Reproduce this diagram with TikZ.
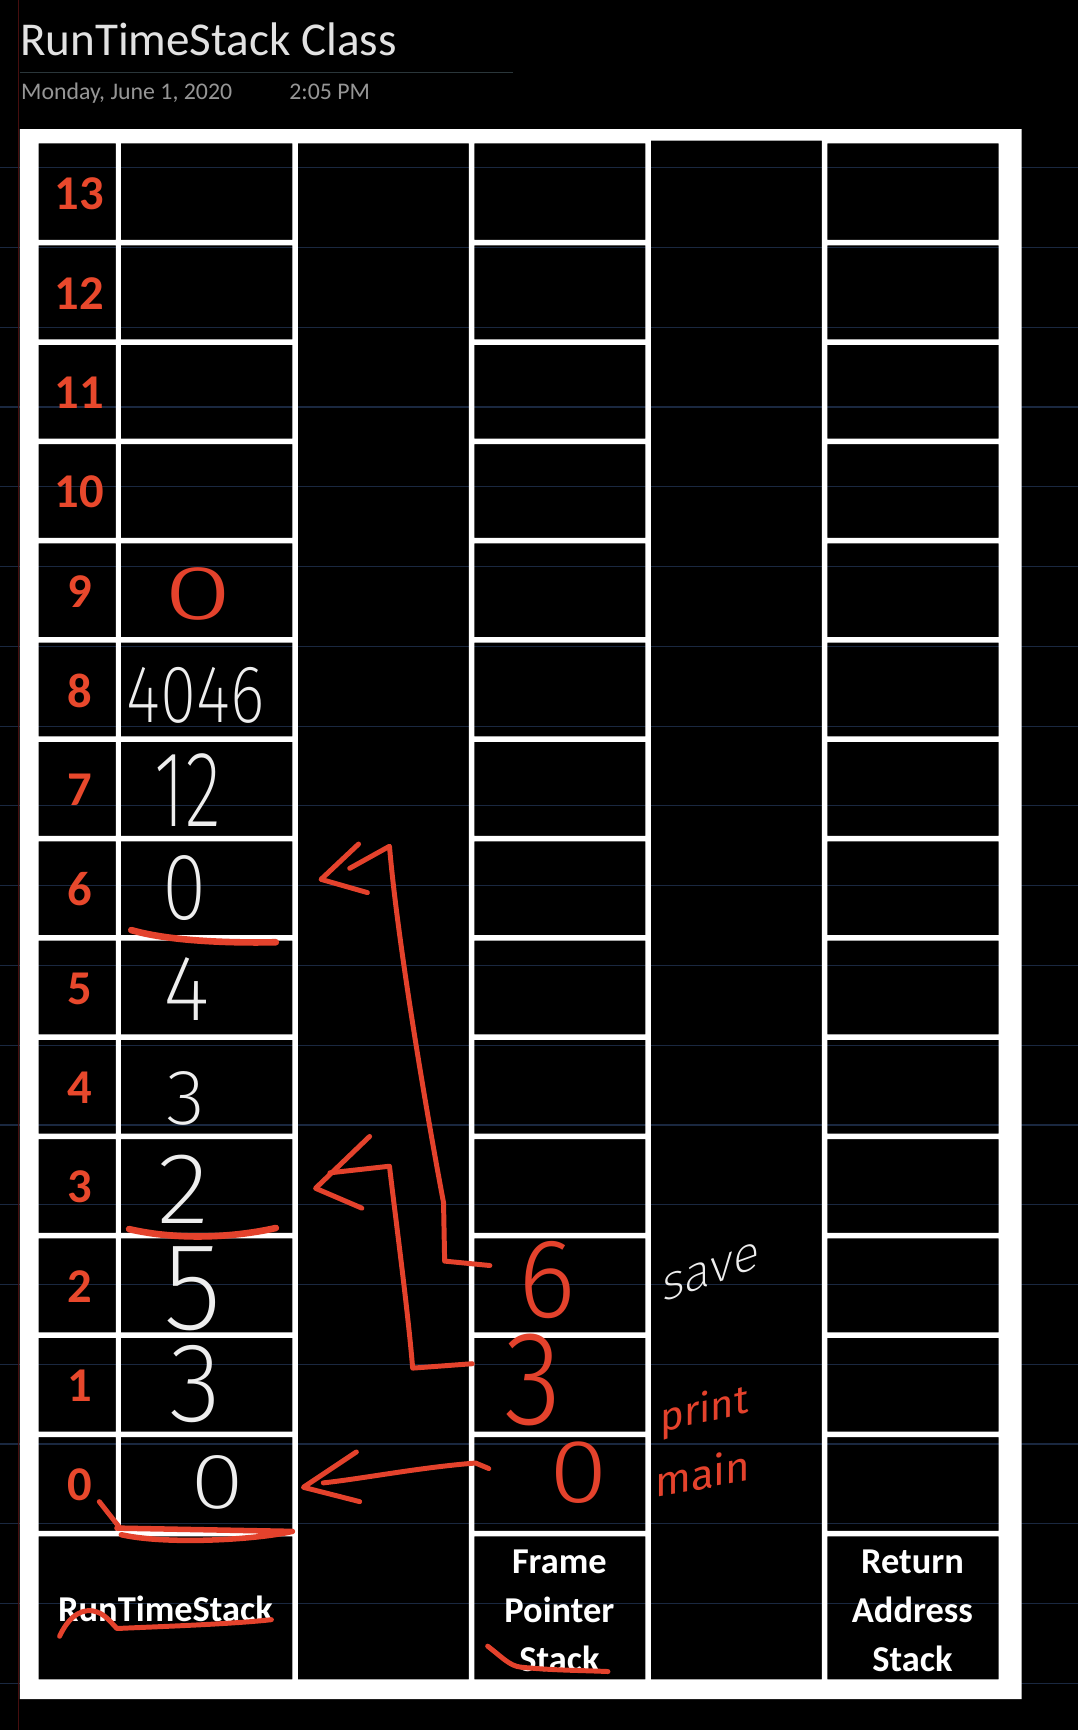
\documentclass[tikz,border=0pt]{standalone}
\usepackage{fontspec}
\usepackage{graphicx}
\setmainfont{Carlito}
\newfontfamily\hwthin{Fira Sans ExtraLight}
\newfontfamily\hwlight{Fira Sans Light}
\newfontfamily\hwreg{Fira Sans}
\definecolor{inkred}{RGB}{228,66,44}
\definecolor{idxred}{RGB}{232,72,44}
\definecolor{ruleblue}{RGB}{26,40,64}
\definecolor{marginred}{RGB}{70,14,14}
\definecolor{titlegrey}{RGB}{226,226,226}
\definecolor{dategrey}{RGB}{150,150,150}
\definecolor{hrulec}{RGB}{42,54,58}
\definecolor{hwwhite}{RGB}{238,238,238}
\newcommand\hwbox[3]{\resizebox{#1pt}{#2pt}{#3}}
\begin{document}
\begin{tikzpicture}[x=1pt,y=-1pt,
  idx/.style={text=idxred, inner sep=0, font=\fontsize{44}{44}\selectfont\bfseries},
  lbl/.style={text=white, inner sep=0, align=center, font=\fontsize{33}{44}\selectfont\bfseries},
  hww/.style={text=hwwhite, inner sep=0, font=\hwthin},
  hwr/.style={text=inkred, inner sep=0, font=\hwlight},
  hwrb/.style={text=inkred, inner sep=0, font=\hwreg},
  ink/.style={draw=inkred, line width=4.5pt, line cap=round, line join=round},
  inkthick/.style={ink, line width=6pt},
  ruleline/.style={draw=ruleblue, line width=1pt}]
\useasboundingbox (0,0) rectangle (977,1568);
\fill[black] (0,0) rectangle (977,1568);
% page ruling
\foreach \n in {0,...,19} {\draw[ruleline] (0,{152+72.3*\n}) -- (977,{152+72.3*\n});}
\draw[marginred, line width=1.2pt] (17,0) -- (17,1568);
% title
\node[anchor=base west, inner sep=0, text=titlegrey, font=\fontsize{42.7}{44}\selectfont] (title) at (18,50) {RunTimeStack Class};
\draw[hrulec, line width=1pt] (18,66) -- (465,66);
\node[anchor=base west, inner sep=0, text=dategrey, font=\fontsize{21.6}{22}\selectfont] (date) at (19,90) {Monday, June 1, 2020};
\node[anchor=base west, inner sep=0, text=dategrey, font=\fontsize{21.6}{22}\selectfont] (time) at (262,90) {2:05 PM};
% white frame with black cells as holes
\fill[white, even odd rule] (18,117) rectangle (926,1540)
  \foreach \k in {0,...,13} {
    (35,{130+90*\k+2.5*(\k>0)}) rectangle (105,{217.5+90*\k})
    (109.5,{130+90*\k+2.5*(\k>0)}) rectangle (265,{217.5+90*\k})
    (430,{130+90*\k+2.5*(\k>0)}) rectangle (585,{217.5+90*\k})
    (750,{130+90*\k+2.5*(\k>0)}) rectangle (905,{217.5+90*\k})
  }
  (35,1392.5) rectangle (265,1522)
  (430,1392.5) rectangle (585,1522)
  (750,1392.5) rectangle (905,1522)
  (270,130) rectangle (425,1522)
  (590,127.5) rectangle (745,1522);
% index numbers
\foreach \r in {0,...,13} {\node[idx] (idx\r) at (72,{130+90*(13-\r)+46}) {\r};}
% column labels
\node[lbl] (rtslabel) at (150,1458) {RunTimeStack};
\node[lbl] (fplabel) at (507,1460) {Frame\\Pointer\\Stack};
\node[lbl] (ralabel) at (827,1460) {Return\\Address\\Stack};
% handwritten values (white)
\node[hww] (v8) at (177.5,630) {\hwbox{125}{50}{4046}};
\node[hww] (v7) at (170,716) {\hwbox{60}{66}{12}};
\node[hww] (v6) at (167,805) {\hwbox{40}{58}{0}};
\node[hww] (v5) at (169,896) {\hwbox{42}{57}{4}};
\node[hww] (v4) at (168,996) {\hwbox{35}{48}{3}};
\node[hww] (v3) at (166.5,1078) {\hwbox{47}{62}{2}};
\node[hww] (v2) at (174.5,1168) {\hwbox{53}{75}{5}};
\node[hww] (v1) at (177.5,1254) {\hwbox{47}{69}{3}};
\node[hww] (v0) at (197.5,1344) {\hwbox{49}{48}{0}};
\begin{scope}[shift={(644.5,1153)}, yslant=0.36]
  \node[hww, transform shape] (save) at (0,0) {\resizebox{88pt}{!}{save}};
\end{scope}
% handwritten values (red)
\node[hwr] (v9) at (179.5,538.5) {\hwbox{63}{47}{0}};
\node[hwr] (fp2) at (496,1160.5) {\hwbox{52}{69}{6}};
\node[hwr] (fp1) at (483,1251) {\hwbox{52}{82}{3}};
\node[hwr] (fp0) at (524.5,1334.5) {\hwbox{53}{55}{0}};
\begin{scope}[shift={(638.5,1279)}, yslant=0.22]
  \node[hwrb, transform shape] (print) at (0,0) {\resizebox{80pt}{!}{print}};
\end{scope}
\begin{scope}[shift={(637,1335)}, yslant=0.18]
  \node[hwrb, transform shape] (main) at (0,0) {\resizebox{86pt}{!}{main}};
\end{scope}
% arrows
\coordinate (a1s) at (444,1147);
\coordinate (a1t) at (291,797);
\draw[ink] (a1s) -- (403,1143) -- (402,1090) .. controls (385,1000) and (360,850) .. (353,767) -- (317,787);
\draw[ink] (325,765) -- (a1t) -- (333,809);
\coordinate (a2s) at (428,1236);
\coordinate (a2t) at (286,1077);
\draw[ink] (a2s) -- (374,1240) .. controls (370,1190) and (358,1100) .. (353,1057) -- (299,1063);
\draw[ink] (335,1030) -- (a2t) -- (328,1095);
\coordinate (a3s) at (443,1331);
\coordinate (a3t) at (275,1348);
\draw[ink] (a3s) -- (431,1326) .. controls (380,1330) and (330,1340) .. (293,1344);
\draw[ink] (323,1316) -- (a3t) -- (326,1361);
% underlines and strikes
\draw[inkthick] (119,843) .. controls (150,852) and (200,855) .. (250,854);
\draw[inkthick] (117,1114) .. controls (160,1124) and (210,1122) .. (250,1113);
\draw[ink] (90,1361) -- (108,1384);
\draw[ink, line width=5pt] (106,1385) -- (265,1388) .. controls (230,1396) and (150,1400) .. (110,1391);
\draw[ink] (54,1483) .. controls (60,1470) and (70,1458) .. (84,1460) .. controls (95,1462) and (100,1470) .. (106,1476) .. controls (150,1474) and (210,1472) .. (246,1468);
\draw[ink] (442,1492) .. controls (455,1502) and (462,1510) .. (472,1511) .. controls (500,1514) and (530,1514) .. (551,1515);
\end{tikzpicture}
\end{document}
